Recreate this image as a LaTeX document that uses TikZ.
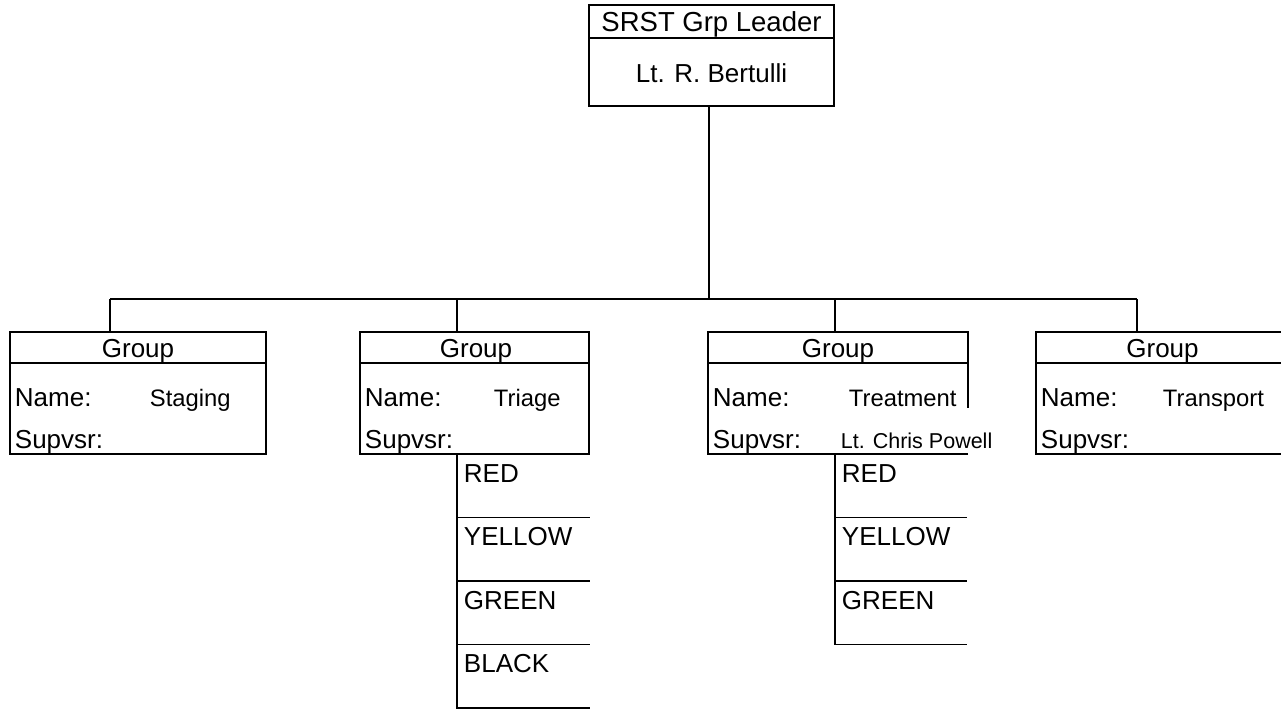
\documentclass[tikz,border=0pt]{standalone}
\usepackage{fontspec}
\setmainfont{Liberation Sans}
\begin{document}
\begin{tikzpicture}[x=1pt, y=-1pt, line width=1.9pt,
  box/.style={rectangle, draw, inner sep=0pt, outer sep=0pt, anchor=north west},
  cell/.style={rectangle, inner sep=0pt, outer sep=0pt, anchor=north west,
               minimum height=63.5pt},
  lbl/.style={inner sep=0pt, anchor=base, font=\fontsize{26}{30}\selectfont},
  lblw/.style={lbl, anchor=base west},
  ttl/.style={lbl, font=\fontsize{27.5}{32}\selectfont},
  nm/.style={inner sep=0pt, anchor=base west, font=\fontsize{23.8}{28}\selectfont},
  nmsmall/.style={nm, font=\fontsize{21.5}{26}\selectfont}]
\useasboundingbox (0,0) rectangle (1281,710);

% group leader box
\node[box, minimum width=245pt, minimum height=101pt] (lead) at (589,5) {};
\draw ([yshift=-33pt]lead.north west) -- ([yshift=-33pt]lead.north east);
\node[ttl] (leadtitle) at (711.5,31) {SRST Grp Leader};
\node[lbl] (leadname)  at (711.5,82) {Lt. R. Bertulli};

% trunk and bus
\coordinate (hub)  at (709,299);
\coordinate (busL) at (110,299);
\coordinate (busT) at (457,299);
\coordinate (busM) at (835,299);
\coordinate (busR) at (1137,299);
\draw (lead.south -| hub) -- (hub);
\draw (busL) -- (busR);

% group boxes
\node[box, minimum width=256pt, minimum height=122pt] (stg) at (10,332) {};
\node[box, minimum width=229pt, minimum height=122pt] (tri) at (360,332) {};
\node[box, draw=none, minimum width=260pt, minimum height=122pt] (trt) at (708,332) {};
\node[box, minimum width=253pt, minimum height=122pt] (trn) at (1036,332) {};
\draw (trt.south east) -- (trt.south west) -- (trt.north west) -- (trt.north east) -- ++(0,76);
\foreach \g in {stg,tri,trt,trn}
  \draw ([yshift=-31pt]\g.north west) -- ([yshift=-31pt]\g.north east);

% drops from the bus
\draw (busL) -- (busL |- stg.north);
\draw (busT) -- (busT |- tri.north);
\draw (busM) -- (busM |- trt.north);
\draw (busR) -- (busR |- trn.north);

% group texts
\node[lbl] (stgG) at (138,357.5) {Group};
\node[lbl] (triG) at (476,357.5) {Group};
\node[lbl] (trtG) at (838,357.5) {Group};
\node[lbl] (trnG) at (1162.5,357.5) {Group};

\node[lblw] (stgN) at (14,406) {Name:};
\node[lblw] (triN) at (364,406) {Name:};
\node[lblw] (trtN) at (712,406) {Name:};
\node[lblw] (trnN) at (1040,406) {Name:};

\node[lblw] (stgS) at (14,448) {Supvsr:};
\node[lblw] (triS) at (364,448) {Supvsr:};
\node[lblw] (trtS) at (712,448) {Supvsr:};
\node[lblw] (trnS) at (1040,448) {Supvsr:};

\node[nm] (stgV) at (149,406) {Staging};
\node[nm] (triV) at (493,406) {Triage};
\node[nm] (trtV) at (848,406) {Treatment};
\node[nm] (trnV) at (1162,406) {Transport};
\node[nmsmall] (trtP) at (840,448) {Lt. Chris Powell};

% triage category list
\node[cell, minimum width=133pt] (triR) at (457,454) {};
\node[cell, minimum width=133pt] (triY) at (triR.south west) {};
\node[cell, minimum width=133pt] (triGr) at (triY.south west) {};
\node[cell, minimum width=133pt] (triB) at (triGr.south west) {};
\foreach \c in {triR,triY,triGr,triB}
  \draw (\c.north west) -- (\c.south west) -- (\c.south east);
\node[lblw] (triRt) at ([xshift=6pt, yshift=-28pt]triR.north west) {RED};
\node[lblw] (triYt) at ([xshift=6pt, yshift=-28pt]triY.north west) {YELLOW};
\node[lblw] (triGt) at ([xshift=6pt, yshift=-28pt]triGr.north west) {GREEN};
\node[lblw] (triBt) at ([xshift=6pt, yshift=-28pt]triB.north west) {BLACK};

% treatment category list
\node[cell, minimum width=132pt] (trtR) at (835,454) {};
\node[cell, minimum width=132pt] (trtY) at (trtR.south west) {};
\node[cell, minimum width=132pt] (trtGr) at (trtY.south west) {};
\foreach \c in {trtR,trtY,trtGr}
  \draw (\c.north west) -- (\c.south west) -- (\c.south east);
\node[lblw] (trtRt) at ([xshift=6pt, yshift=-28pt]trtR.north west) {RED};
\node[lblw] (trtYt) at ([xshift=6pt, yshift=-28pt]trtY.north west) {YELLOW};
\node[lblw] (trtGt) at ([xshift=6pt, yshift=-28pt]trtGr.north west) {GREEN};
\end{tikzpicture}
\end{document}
